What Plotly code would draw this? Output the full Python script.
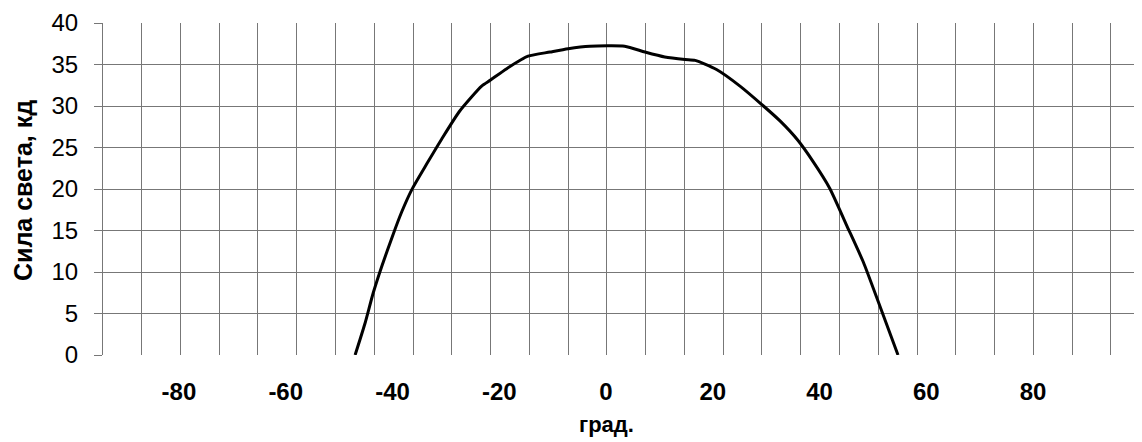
import plotly.graph_objects as go

# Data (angle in degrees, luminous intensity in cd)
angle_deg = [-47.0, -45.2, -43.6, -42.0, -39.9, -38.3, -36.4, -33.6, -30.8, -27.4,
             -23.3, -21.7, -18.6, -14.6, -10.5, -7.1, -3.0, 3.5, 7.3, 11.0,
             14.8, 16.7, 20.7, 25.1, 29.5, 32.6, 35.9, 38.8, 41.9, 45.1,
             48.2, 51.3, 54.7]
intensity_cd = [0.0, 3.7, 7.5, 10.7, 14.5, 17.2, 19.9, 23.0, 26.0, 29.4,
                32.4, 33.1, 34.5, 36.0, 36.5, 36.9, 37.2, 37.2, 36.5, 35.9,
                35.6, 35.5, 34.4, 32.4, 30.0, 28.2, 25.9, 23.3, 20.1, 15.6,
                11.2, 5.9, 0.0]

x_tick_vals = [-80, -60, -40, -20, 0, 20, 40, 60, 80]
x_tick_text = ["-80", "-60", "-40", "-20", "0", "20", "40", "60", "80"]
y_tick_vals = [0, 5, 10, 15, 20, 25, 30, 35, 40]

x_title = "град."
y_title = "Сила света, кд"

FONT = "Liberation Sans, Arial, sans-serif"
GRID = "#777777"

fig = go.Figure()
fig.add_trace(go.Scatter(
    x=angle_deg, y=intensity_cd, mode="lines",
    line=dict(color="black", width=3, shape="spline", smoothing=0.6),
    showlegend=False, hoverinfo="skip",
))

# the page body has an 8px margin; margins compensate so the plot area
# lands where the reference has it
fig.update_layout(
    width=1142, height=442,
    margin=dict(l=95, r=8, t=15, b=95),
    paper_bgcolor="white", plot_bgcolor="white",
    font=dict(family=FONT, color="black"),
    xaxis=dict(
        range=[-94.23, 100.41], automargin=False,
        tickmode="array", tickvals=x_tick_vals, ticktext=x_tick_text,
        showgrid=False, ticks="", zeroline=False,
        tickfont=dict(family=FONT, size=24, weight="bold", color="black"),
        ticklabelstandoff=20,
        showline=False,
        minor=dict(tick0=0.17, dtick=7.263, showgrid=True,
                   gridcolor=GRID, gridwidth=1.2, ticks=""),
    ),
    yaxis=dict(
        range=[0, 40], automargin=False,
        tickmode="array", tickvals=y_tick_vals,
        showgrid=True, gridcolor=GRID, gridwidth=1.2,
        zeroline=False,
        ticks="outside", ticklen=8, tickcolor=GRID, tickwidth=1.2,
        showline=True, linecolor=GRID, linewidth=1.2,
        tickfont=dict(family=FONT, size=24, color="black"),
        ticklabelstandoff=11,
    ),
    annotations=[
        dict(text=y_title, xref="paper", yref="paper", x=-0.077, y=0.497,
             showarrow=False, textangle=-90, xanchor="center", yanchor="middle",
             font=dict(family=FONT, size=25, weight="bold", color="black")),
        dict(text=x_title, xref="paper", yref="paper", x=0.485, y=-0.208,
             showarrow=False, xanchor="center", yanchor="middle",
             font=dict(family=FONT, size=22, weight="bold", color="black")),
    ],
)

fig.write_html("out.html")
